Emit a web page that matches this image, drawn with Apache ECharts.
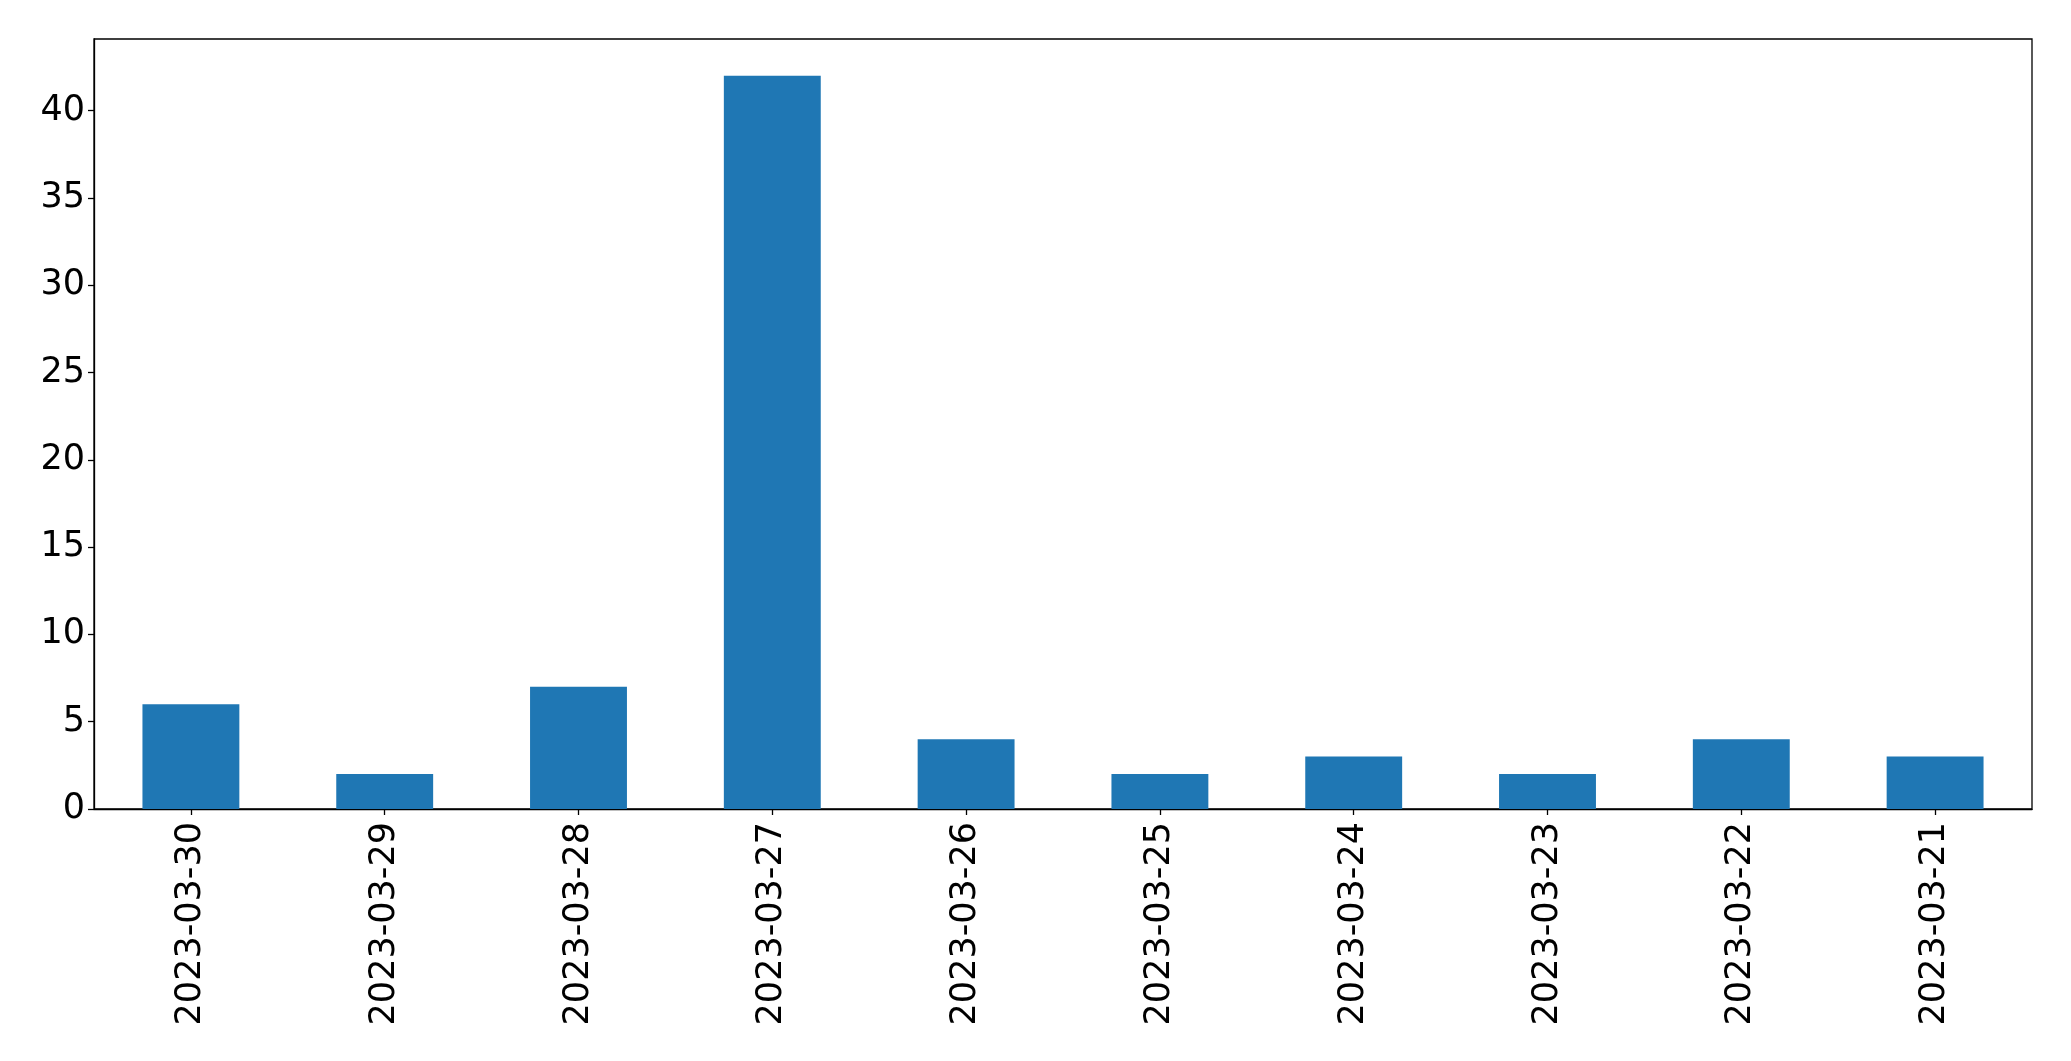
<!DOCTYPE html>
<html>
<head>
<meta charset="utf-8">
<script src="https://cdn.jsdelivr.net/npm/echarts@6/dist/echarts.min.js"></script>
<style>html,body{margin:0;padding:0;background:#fff}#c{width:2071px;height:1061px}</style>
</head>
<body>
<div id="c"></div>
<script>
const categories = ["2023-03-30","2023-03-29","2023-03-28","2023-03-27","2023-03-26","2023-03-25","2023-03-24","2023-03-23","2023-03-22","2023-03-21"];
const values = [6,2,7,42,4,2,3,2,4,3];
const yTicks = [0,5,10,15,20,25,30,35,40];

const chart = echarts.init(document.getElementById('c'), null, {renderer:'canvas'});
const font = 'DejaVu Sans';
chart.setOption({
  animation:false,
  grid:{left:94,top:39,right:39,bottom:252,show:true,borderColor:'#000',borderWidth:1.3,containLabel:false},
  xAxis:{
    type:'category', data:categories, boundaryGap:true,
    axisLine:{show:true,lineStyle:{color:'#000',width:1.3}},
    axisTick:{show:true,alignWithLabel:true,length:6,lineStyle:{color:'#000',width:1.3}},
    axisLabel:{rotate:90,margin:13,color:'#000',fontFamily:font,fontSize:35,interval:0},
    splitLine:{show:false}
  },
  yAxis:{
    type:'value', min:0, max:44.1,
    axisLine:{show:true,lineStyle:{color:'#000',width:1.3}},
    axisTick:{show:true,length:6,customValues:yTicks,lineStyle:{color:'#000',width:1.3}},
    axisLabel:{margin:9,color:'#000',fontFamily:font,fontSize:35,customValues:yTicks},
    splitLine:{show:false}
  },
  series:[{type:'bar',data:values,barWidth:'50%',itemStyle:{color:'#1f77b4'}}]
});
</script>
</body>
</html>
